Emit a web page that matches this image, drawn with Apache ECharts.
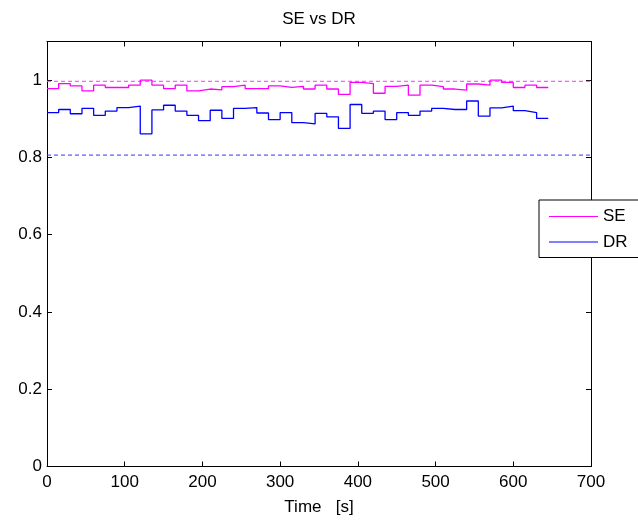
<!DOCTYPE html>
<html>
<head>
<meta charset="utf-8">
<script src="https://cdn.jsdelivr.net/npm/echarts@6/dist/echarts.min.js"></script>
<style>html,body{margin:0;padding:0;background:#fff;}#c{width:638px;height:520px;}</style>
</head>
<body>
<div id="c"></div>
<script>
// Step start times (s) and values for each 15 s segment
var stepStarts = [0,15,30,45,60,75,90,105,120,135,150,165,180,195,210,225,240,255,270,285,300,315,330,345,360,375,390,405,420,435,450,465,480,495,510,525,540,555,570,585,600,615,630];
var endTime = 645;
var seValues = [0.978,0.991,0.985,0.972,0.987,0.981,0.981,0.987,1.000,0.987,
                0.978,0.987,0.972,0.977,0.975,0.983,0.987,0.978,0.978,0.985,
                0.981,0.984,0.977,0.987,0.977,0.963,0.994,0.991,0.966,0.984,
                0.987,0.961,0.987,0.983,0.977,0.974,0.990,0.987,1.000,0.994,
                0.981,0.987,0.981];
var drValues = [0.916,0.924,0.913,0.927,0.909,0.920,0.929,0.933,0.861,0.923,
                0.935,0.920,0.909,0.895,0.922,0.901,0.927,0.929,0.915,0.898,
                0.916,0.890,0.887,0.914,0.905,0.875,0.937,0.914,0.920,0.898,
                0.916,0.909,0.920,0.927,0.924,0.924,0.946,0.907,0.928,0.933,
                0.921,0.916,0.901];
var seRef = 0.997;
var drRef = 0.806;
var xTicks = [0,100,200,300,400,500,600,700];
var yTicks = [0,0.2,0.4,0.6,0.8,1];

function stepData(vals){
  var d = [];
  for (var i = 0; i < stepStarts.length; i++) d.push([stepStarts[i], vals[i]]);
  d.push([endTime, vals[vals.length-1]]);
  return d;
}

var chart = echarts.init(document.getElementById('c'), null, {renderer:'canvas'});
var font = 'Liberation Sans, Arial, Helvetica, sans-serif';
var fs = 17;
var SE_COLOR = '#ff00ff', DR_COLOR = '#0000ff';
function axisCommon(){
  return {
    axisLine:{show:true, onZero:false, lineStyle:{color:'#000', width:1}},
    axisTick:{show:true, inside:true, length:5, lineStyle:{color:'#000'}},
    splitLine:{show:false}
  };
}
var lineIcon = 'path://M0,0 L100,0 L100,2 L0,2 Z';
chart.setOption({
  animation:false,
  backgroundColor:'#fff',
  title:{text:'SE vs DR', left:'center', top:6, textStyle:{fontFamily:font, fontSize:fs, fontWeight:'normal', color:'#000'}},
  grid:{left:47, right:47, top:41.5, bottom:53.5, show:false, outerBoundsMode:'none', containLabel:false},
  legend:{
    data:[{name:'SE', icon:lineIcon, itemStyle:{color:SE_COLOR}},{name:'DR', icon:lineIcon, itemStyle:{color:DR_COLOR}}],
    orient:'vertical', left:539, top:200,
    backgroundColor:'#fff', borderColor:'#000', borderWidth:1, borderRadius:0,
    padding:[8,40,7,10], itemWidth:49, itemHeight:14, itemGap:8.5,
    textStyle:{fontFamily:font, fontSize:fs, color:'#000'}
  },
  xAxis:[
    Object.assign({type:'value', min:xTicks[0], max:xTicks[xTicks.length-1], interval:100, position:'bottom',
      name:'Time   [s]', nameLocation:'middle', nameGap:32,
      nameTextStyle:{fontFamily:font, fontSize:fs, color:'#000'},
      axisLabel:{fontFamily:font, fontSize:fs, color:'#000', margin:7}}, axisCommon()),
    Object.assign({type:'value', min:xTicks[0], max:xTicks[xTicks.length-1], interval:100, position:'top',
      axisLabel:{show:false}}, axisCommon())
  ],
  yAxis:[
    Object.assign({type:'value', min:0, max:1.1, interval:0.2, position:'left',
      axisLabel:{fontFamily:font, fontSize:fs, color:'#000', margin:5, showMaxLabel:false}}, axisCommon()),
    Object.assign({type:'value', min:0, max:1.1, interval:0.2, position:'right',
      axisLabel:{show:false}}, axisCommon())
  ],
  series:[
    {name:'SE-ref', type:'line', data:[[xTicks[0],seRef],[xTicks[xTicks.length-1],seRef]], symbol:'none', silent:true,
      lineStyle:{color:'#ff33ff', width:1, type:[4,3]}, z:1},
    {name:'DR-ref', type:'line', data:[[xTicks[0],drRef],[xTicks[xTicks.length-1],drRef]], symbol:'none', silent:true,
      lineStyle:{color:'#3333ff', width:1, type:[4,3]}, z:1},
    {name:'SE', type:'line', step:'end', data:stepData(seValues), symbol:'none',
      itemStyle:{color:SE_COLOR}, lineStyle:{color:SE_COLOR, width:1.3}, z:2},
    {name:'DR', type:'line', step:'end', data:stepData(drValues), symbol:'none',
      itemStyle:{color:DR_COLOR}, lineStyle:{color:DR_COLOR, width:1.3}, z:2}
  ]
});
</script>
</body>
</html>
